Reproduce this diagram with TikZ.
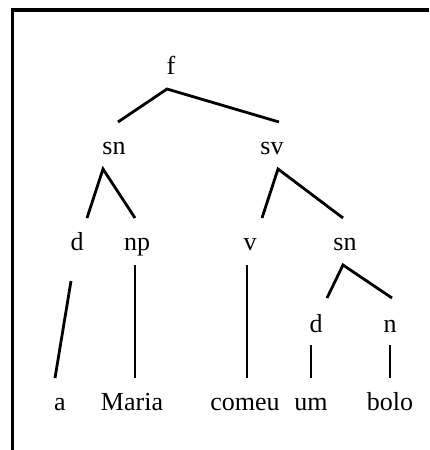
\documentclass[tikz,border=0pt]{standalone}
\usepackage{fontspec}
\setmainfont{Liberation Serif}
\begin{document}
\begin{tikzpicture}[x=1pt,y=-1pt,
  lab/.style={anchor=base,inner sep=0pt,font=\fontsize{26}{30}\selectfont},
  edge/.style={line width=2.8pt,line cap=butt}]
\useasboundingbox (0,0) rectangle (429,450);
% frame (top and left only)
\draw[line width=3.6pt,line join=miter] (12.5,450) -- (12.5,9.7) -- (429,9.7);
% labels
\node[lab] (f) at (171,74) {f};
\node[lab] (sn1) at (114,154) {sn};
\node[lab] (sv) at (272,154) {sv};
\node[lab] (d1) at (77,250) {d};
\node[lab] (np) at (137,250) {np};
\node[lab] (v) at (250,250) {v};
\node[lab] (sn2) at (345,250) {sn};
\node[lab] (d2) at (316,332) {d};
\node[lab] (n) at (390,332) {n};
\node[lab] (a) at (60,410) {a};
\node[lab] (maria) at (132,410) {Maria};
\node[lab] (comeu) at (245,410) {comeu};
\node[lab] (um) at (311,410) {um};
\node[lab] (bolo) at (390,410) {bolo};
% connector end points
\coordinate (fB) at (167,89);
\coordinate (sn1T) at (118,122);
\coordinate (svT) at (279,122);
\coordinate (sn1B) at (103,169);
\coordinate (d1T) at (87,218);
\coordinate (npT) at (135,218);
\coordinate (svB) at (278,169);
\coordinate (vT) at (262,218);
\coordinate (sn2T) at (343,218);
\coordinate (d1B) at (71,281);
\coordinate (aT) at (55,378);
\coordinate (npB) at (135,265);
\coordinate (mariaT) at (135,378);
\coordinate (vB) at (247,265);
\coordinate (comeuT) at (247,378);
\coordinate (sn2B) at (343,265);
\coordinate (d2T) at (327,298);
\coordinate (nT) at (392,298);
\coordinate (d2B) at (311,345);
\coordinate (umT) at (311,378);
\coordinate (nB) at (390,345);
\coordinate (boloT) at (390,378);
% connectors
\draw[edge,line join=miter] (sn1T) -- (fB) -- (svT);
\draw[edge,line join=miter] (d1T) -- (sn1B) -- (npT);
\draw[edge,line join=miter] (vT) -- (svB) -- (sn2T);
\draw[edge,line join=miter] (d2T) -- (sn2B) -- (nT);
\draw[edge] (d1B) -- (aT);
\draw[edge] (npB) -- (mariaT);
\draw[edge] (vB) -- (comeuT);
\draw[edge] (d2B) -- (umT);
\draw[edge] (nB) -- (boloT);
\end{tikzpicture}
\end{document}
